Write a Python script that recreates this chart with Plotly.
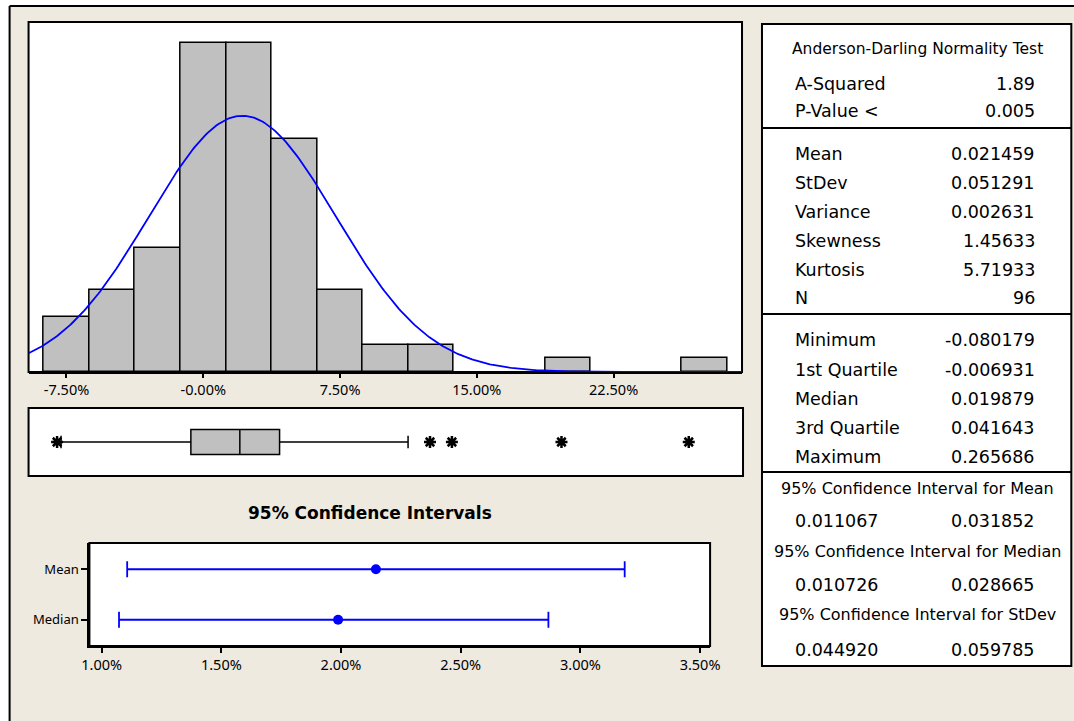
import numpy as np
import plotly.graph_objects as go

# ---------------- data ----------------
# histogram of returns (percent), bin width 2.5
bin_centers = [-7.5, -5.0, -2.5, 0.0, 2.5, 5.0, 7.5, 10.0, 12.5, 15.0, 17.5, 20.0, 22.5, 25.0, 27.5]
bin_counts = [4, 6, 9, 24, 24, 17, 6, 2, 2, 0, 0, 1, 0, 0, 1]
bin_width = 2.5

hist_tickvals = [-7.5, 0.0, 7.5, 15.0, 22.5]
hist_ticktext = ["-7.50%", "-0.00%", "7.50%", "15.00%", "22.50%"]

# descriptive statistics (fractions)
n_obs = 96
mean_val = 0.021459
stdev_val = 0.051291
minimum = -0.080179
q1_val = -0.006931
median_val = 0.019879
q3_val = 0.041643
maximum = 0.265686

# boxplot whisker ends and outliers (percent)
whisker_low = -7.8
whisker_high = 11.2
outliers = [minimum * 100, 12.4, 13.6, 19.6, maximum * 100]

# confidence intervals
ci_names = ["Mean", "Median"]
ci_center = [mean_val, median_val]
ci_low = [0.011067, 0.010726]
ci_high = [0.031852, 0.028665]
stdev_ci = [0.044920, 0.059785]
ci_tickvals = [1.0, 1.5, 2.0, 2.5, 3.0, 3.5]
ci_ticktext = ["1.00%", "1.50%", "2.00%", "2.50%", "3.00%", "3.50%"]

# summary table
ad_labels = ["A-Squared", "P-Value <"]
ad_values = ["1.89", "0.005"]
moment_labels = ["Mean", "StDev", "Variance", "Skewness", "Kurtosis", "N"]
moment_values = ["0.021459", "0.051291", "0.002631", "1.45633", "5.71933", "96"]
quant_labels = ["Minimum", "1st Quartile", "Median", "3rd Quartile", "Maximum"]
quant_values = ["-0.080179", "-0.006931", "0.019879", "0.041643", "0.265686"]
ci_headers = ["95% Confidence Interval for Mean",
              "95% Confidence Interval for Median",
              "95% Confidence Interval for StDev"]
ci_pairs = [ci_low[0], ci_high[0]], [ci_low[1], ci_high[1]], stdev_ci

# ---------------- layout helpers ----------------
W, H = 1090, 721
# horizontal placement: page x for a desired on-screen x
X_OFF, X_SCALE = 6.4, 0.9856


def px(x):
    return min(max((x - X_OFF) / X_SCALE / W, 0.0), 1.0)


def py(y):
    return min(max(1 - y / H, 0.0), 1.0)


BEIGE = "#EEEAE0"
GREY = "#C0C0C0"
BLUE = "#0000FF"
TICK_FONT = dict(family="Noto Sans, DejaVu Sans, sans-serif", size=14.5, color="black")
TABLE_FONT = "DejaVu Sans, Verdana, sans-serif"

fig = go.Figure()

# histogram bars (non-empty bins only)
hx = [c for c, k in zip(bin_centers, bin_counts) if k > 0]
hy = [k for k in bin_counts if k > 0]
fig.add_trace(go.Bar(
    x=hx, y=hy, width=bin_width, xaxis="x", yaxis="y",
    marker=dict(color=GREY, line=dict(color="black", width=1.5)),
    hoverinfo="skip", showlegend=False,
))

# fitted normal curve scaled to counts
x_lo, x_hi = -9.58, 29.54
xs = np.linspace(x_lo, x_hi, 400)
mu, sd = mean_val * 100, stdev_val * 100
ys = n_obs * bin_width * np.exp(-0.5 * ((xs - mu) / sd) ** 2) / (sd * np.sqrt(2 * np.pi))
fig.add_trace(go.Scatter(
    x=xs, y=ys, mode="lines", xaxis="x", yaxis="y",
    line=dict(color=BLUE, width=1.8), hoverinfo="skip", showlegend=False,
))

# boxplot from the quartiles
fig.add_trace(go.Box(
    y=[0], q1=[q1_val * 100], median=[median_val * 100], q3=[q3_val * 100],
    lowerfence=[whisker_low], upperfence=[whisker_high],
    orientation="h", xaxis="x2", yaxis="y2", width=0.74,
    fillcolor=GREY, line=dict(color="black", width=1.5),
    boxpoints=False, hoverinfo="skip", showlegend=False,
))
fig.add_trace(go.Scatter(
    x=outliers, y=[0] * len(outliers), mode="markers", xaxis="x2", yaxis="y2",
    marker=dict(symbol="asterisk", size=10, line=dict(color="black", width=2.5)),
    hoverinfo="skip", showlegend=False,
))

# confidence intervals for mean and median
cx = [v * 100 for v in ci_center]
fig.add_trace(go.Scatter(
    x=cx, y=ci_names, mode="markers", xaxis="x3", yaxis="y3",
    marker=dict(color=BLUE, size=10),
    error_x=dict(type="data", symmetric=False,
                 array=[h * 100 - c for h, c in zip(ci_high, cx)],
                 arrayminus=[c - l * 100 for l, c in zip(ci_low, cx)],
                 color=BLUE, thickness=1.8, width=8),
    hoverinfo="skip", showlegend=False,
))

# ---------------- panels ----------------
# beige frame (fill reaches the page edge; only left and top borders are visible)
shapes = [
    dict(type="rect", xref="paper", yref="paper", x0=px(8), x1=1, y0=0, y1=py(6),
         fillcolor=BEIGE, line=dict(width=0), layer="below"),
    dict(type="line", xref="paper", yref="paper", x0=px(8), x1=1, y0=py(6), y1=py(6),
         line=dict(color="black", width=2), layer="below"),
    dict(type="line", xref="paper", yref="paper", x0=px(8), x1=px(8), y0=0, y1=py(6),
         line=dict(color="black", width=2), layer="below"),
]
for (a, b, c, d) in [(27, 22, 742, 372), (27, 408, 743, 476), (88, 543, 710, 646), (762, 24, 1072, 666)]:
    shapes.append(dict(type="rect", xref="paper", yref="paper", x0=px(a), x1=px(c), y0=py(d), y1=py(b),
                       fillcolor="white", line=dict(color="black", width=2), layer="below"))
for yy in [128, 314, 472]:
    shapes.append(dict(type="line", xref="paper", yref="paper", x0=px(762), x1=px(1072), y0=py(yy), y1=py(yy),
                       line=dict(color="black", width=2)))

# ---------------- text ----------------
annotations = [
    dict(text="<b>95% Confidence Intervals</b>", x=px(369), y=py(513), xref="paper", yref="paper",
         showarrow=False, xanchor="center", yanchor="middle",
         font=dict(family=TABLE_FONT, size=17, color="black")),
    dict(text="Anderson-Darling Normality Test", x=px(918), y=py(49), xref="paper", yref="paper",
         showarrow=False, xanchor="center", yanchor="middle",
         font=dict(family=TABLE_FONT, size=15.5, color="black")),
]


def row(label, value, yc):
    annotations.append(dict(text=label, x=px(793), y=py(yc), xref="paper", yref="paper", showarrow=False,
                            xanchor="left", yanchor="middle",
                            font=dict(family=TABLE_FONT, size=17.5, color="black")))
    annotations.append(dict(text=value, x=px(1038), y=py(yc), xref="paper", yref="paper", showarrow=False,
                            xanchor="right", yanchor="middle",
                            font=dict(family=TABLE_FONT, size=17.5, color="black")))


for lab, val, yc in zip(ad_labels, ad_values, [84, 111]):
    row(lab, val, yc)
for lab, val, yc in zip(moment_labels, moment_values, [154, 183, 212, 241, 270, 298]):
    row(lab, val, yc)
for lab, val, yc in zip(quant_labels, quant_values, [340, 370, 399, 428, 457]):
    row(lab, val, yc)
for head, pair, yh, yv in zip(ci_headers, ci_pairs, [488, 551, 614], [521, 585, 650]):
    annotations.append(dict(text=head, x=px(918), y=py(yh), xref="paper", yref="paper", showarrow=False,
                            xanchor="center", yanchor="middle",
                            font=dict(family=TABLE_FONT, size=16, color="black")))
    row(f"{pair[0]:.6f}", f"{pair[1]:.6f}", yv)

hidden = dict(showgrid=False, zeroline=False, showticklabels=False, ticks="", showline=False)

fig.update_layout(
    width=W, height=H, margin=dict(l=0, r=0, t=0, b=0),
    paper_bgcolor="white", plot_bgcolor="rgba(0,0,0,0)",
    bargap=0, showlegend=False,
    shapes=shapes, annotations=annotations,
    xaxis=dict(domain=[px(27), px(742)], range=[x_lo, x_hi], anchor="y",
               tickvals=hist_tickvals, ticktext=hist_ticktext, ticks="outside", ticklen=4,
               tickcolor="black", tickwidth=1.5, showgrid=False, zeroline=False,
               showline=True, linecolor="black", linewidth=2, tickfont=TICK_FONT),
    yaxis=dict(domain=[py(372), py(22)], range=[0, 25.5], anchor="x", **hidden),
    xaxis2=dict(domain=[px(27), px(743)], range=[x_lo, x_hi], anchor="y2", **hidden),
    yaxis2=dict(domain=[py(476), py(408)], range=[-1, 1], anchor="x2", **hidden),
    xaxis3=dict(domain=[px(88), px(710)], range=[0.949, 3.542], anchor="y3",
                tickvals=ci_tickvals, ticktext=ci_ticktext, ticks="outside", ticklen=5,
                tickcolor="black", tickwidth=1.5, showgrid=False, zeroline=False,
                showline=True, linecolor="black", linewidth=2, tickfont=TICK_FONT),
    yaxis3=dict(domain=[py(646), py(543)], range=[-0.52, 1.52], anchor="x3",
                type="category", categoryorder="array", categoryarray=["Median", "Mean"],
                ticks="outside", ticklen=6, tickcolor="black", tickwidth=1.5,
                showgrid=False, zeroline=False, showline=True, linecolor="black", linewidth=2,
                tickfont=dict(family="Noto Sans, DejaVu Sans, sans-serif", size=13, color="black")),
)

fig.write_html("out.html")
